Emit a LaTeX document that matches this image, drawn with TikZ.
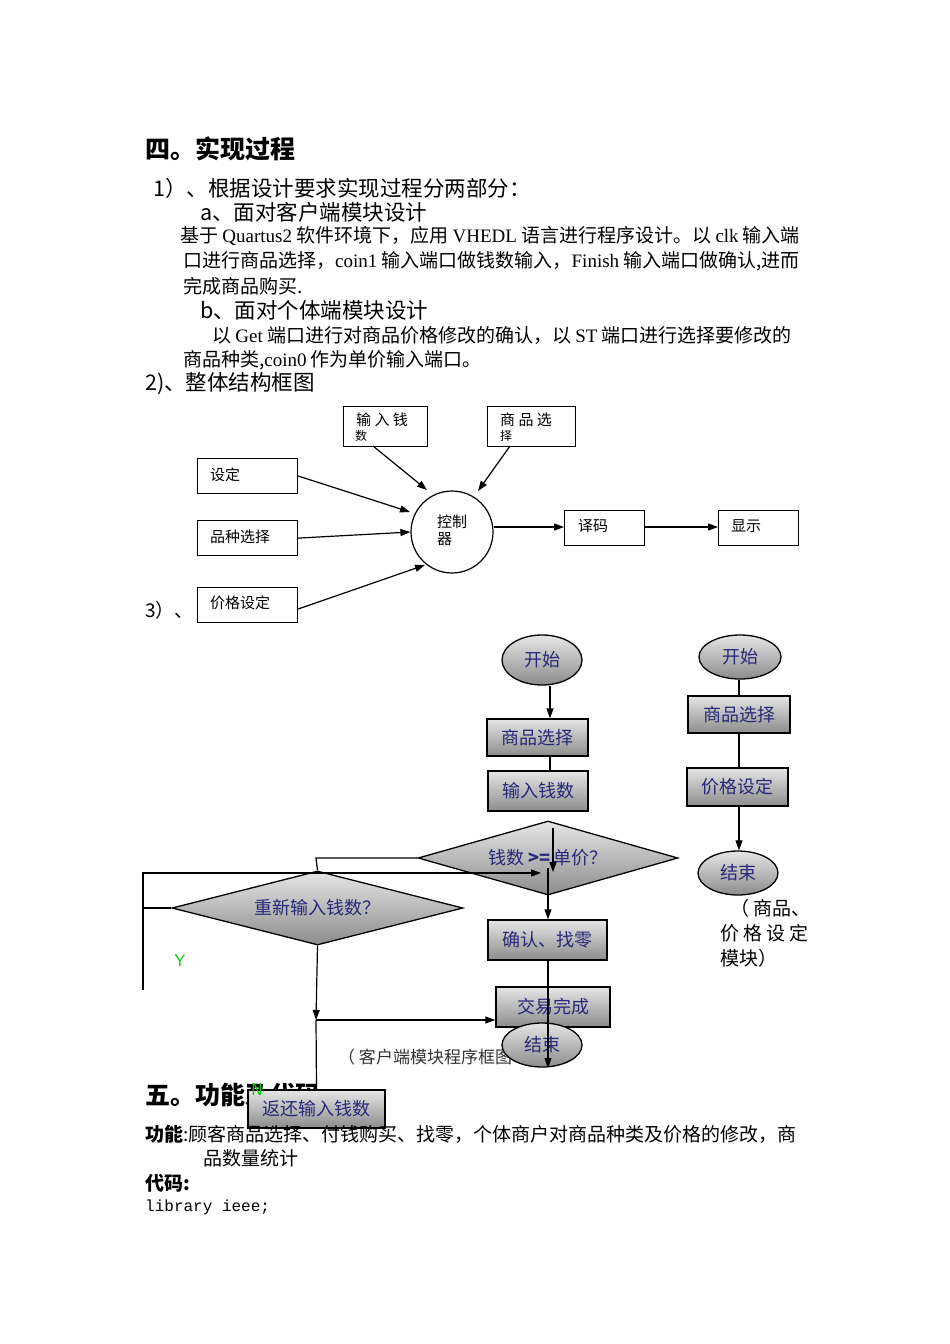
\documentclass[tikz,border=0pt]{standalone}
\usepackage{fontspec}
\setmainfont{Noto Sans CJK SC}
\newfontfamily\sr{Liberation Serif}
\newfontfamily\mn{Liberation Mono}
\usetikzlibrary{shapes.geometric,arrows.meta}
\definecolor{navy}{RGB}{40,40,120}
\tikzset{
 txt/.style={anchor=west,inner sep=0pt,font=\fontsize{19}{19}\selectfont},
 big/.style={anchor=west,inner sep=0pt,font=\fontsize{21.5}{21.5}\selectfont},
 head/.style={anchor=west,inner sep=0pt,font=\fontsize{25}{25}\selectfont\bfseries},
 bx/.style={draw,line width=1.2pt,anchor=north west,inner sep=0pt,font=\fontsize{15}{15}\selectfont},
 ar/.style={line width=1.2pt,-{Triangle[length=10pt,width=7pt]}},
 ln/.style={line width=1.2pt},
 sh/.style={draw,line width=1.3pt,top color=white!80!gray,bottom color=black!45,font=\fontsize{18}{18}\selectfont,text=navy,inner sep=0pt},
 el/.style={sh,ellipse,inner sep=0pt},
 dm/.style={sh,diamond,aspect=3.5,inner sep=0pt},
 grn/.style={text=green!80!black,font=\fontsize{17}{17}\sffamily,inner sep=0pt}
}
\begin{document}
\begin{tikzpicture}[x=1pt,y=-1pt]
\useasboundingbox (0,0) rectangle (950,1344);
\node[head] (h1) at (145,149) {四。实现过程};
\node[big] (t1) at (153,188) {1）、根据设计要求实现过程分两部分：};
\node[big] (t2) at (200,212) {a、面对客户端模块设计};
\node[txt] (t3) at (180,236) {基于 {\sr Quartus2} 软件环境下，应用 {\sr VHEDL} 语言进行程序设计。以 {\sr clk} 输入端};
\node[txt] (t4) at (183,261) {口进行商品选择，{\sr coin1} 输入端口做钱数输入，{\sr Finish} 输入端口做确认,进而};
\node[txt] (t5) at (183,286) {完成商品购买.};
\node[big] (t6) at (200,310) {b、面对个体端模块设计};
\node[txt] (t7) at (212,335) {以 {\sr Get} 端口进行对商品价格修改的确认，以 {\sr ST} 端口进行选择要修改的};
\node[txt] (t8) at (183,360) {商品种类,{\sr coin0} 作为单价输入端口。};
\node[big] (t9) at (145,384) {2)、整体结构框图};
% block diagram
\node[bx,minimum width=84pt,minimum height=40pt] (in) at (343,406) {};
\node[font=\fontsize{15}{15}\selectfont,anchor=north west,inner sep=0pt] (inT) at (356,413) {输 入 钱};
\node[font=\fontsize{12}{12}\selectfont,anchor=north west,inner sep=0pt] (inT2) at (355,430) {数};
\node[bx,minimum width=88pt,minimum height=40pt] (sp) at (487,406) {};
\node[font=\fontsize{15}{15}\selectfont,anchor=north west,inner sep=0pt] (spT) at (500,413) {商 品 选};
\node[font=\fontsize{12}{12}\selectfont,anchor=north west,inner sep=0pt] (spT2) at (500,430) {择};
\node[bx,minimum width=100pt,minimum height=35pt] (sd) at (197,458) {};
\node[txt,font=\fontsize{15}{15}\selectfont] at (210,475) {设定};
\node[bx,minimum width=100pt,minimum height=35pt] (pz) at (197,520) {};
\node[txt,font=\fontsize{15}{15}\selectfont] at (210,537) {品种选择};
\node[bx,minimum width=100pt,minimum height=35pt] (jg) at (197,587) {};
\node[txt,font=\fontsize{15}{15}\selectfont] at (210,603) {价格设定};
\node[draw,line width=1.2pt,circle,minimum size=82pt,inner sep=0pt] (ctl) at (452,532) {};
\node[font=\fontsize{15}{17}\selectfont,align=left,inner sep=0pt] at (452,530) {控制\\器};
\node[bx,minimum width=80pt,minimum height=35pt] (ym) at (564,510) {};
\node[txt,font=\fontsize{15}{15}\selectfont] at (578,526) {译码};
\node[bx,minimum width=80pt,minimum height=35pt] (xs) at (718,510) {};
\node[txt,font=\fontsize{15}{15}\selectfont] at (731,526) {显示};
\node[big,font=\fontsize{19}{19}\selectfont] (t10) at (145,610) {3）、};
\draw[ar] (sd.east|-0,476) -- (410,512);
\draw[ar] (pz.east) -- (ctl.west);
\draw[ar] (jg.east|-0,609) -- (425,565);
\draw[ar] (373,446) -- (427,490);
\draw[ar] (510,446) -- (478,491);
\draw[ar] (ctl.east|-0,527) -- (ym.west|-0,527);
\draw[ar] (ym.east|-0,527) -- (xs.west|-0,527);
% heading 5 (drawn before overlap)
\node[head] (h2) at (145,1095) {五。功能及代码};
\node[txt,font=\fontsize{17}{17}\selectfont,text=black!80] (cap) at (338,1057) {（ 客户端模块程序框图};
% left flowchart
\node[el,minimum width=80pt,minimum height=50pt] (s1) at (542,660) {开始};
\node[sh,minimum width=101pt,minimum height=37pt] (b1) at (537.5,737.5) {商品选择};
\node[sh,minimum width=100pt,minimum height=40pt] (b2) at (538,791) {输入钱数};
\node[dm,minimum width=260pt,minimum height=74pt] (d1) at (548,858) {钱数 {\bfseries >=} 单价？};
\node[sh,minimum width=119pt,minimum height=40pt] (b3) at (547.5,940) {确认、找零};
\node[sh,minimum width=114pt,minimum height=40pt] (b4) at (553,1007) {交易完成};
\node[dm,minimum width=291pt,minimum height=74pt] (d2) at (317.5,908) {重新输入钱数？};
\node[sh,minimum width=137pt,minimum height=38pt] (b5) at (316.5,1109) {返还输入钱数};
\node[grn] (Y) at (180,961) {Y};
\node[grn] (N) at (257,1090) {N};
\draw[ar] (s1.south-|550,0) -- (b1.north-|550,0);
\draw[ln] (b1.south-|550,0) -- (b2.north-|550,0);
\draw[ar] (553,828) -- (553,872);
\draw[ar] (548,868) -- (b3.north-|548,0);
\draw[ln] (d1.west) -- (316,858) -- (d2.north);
\draw[ar] (143,990) -- (143,873) -- (541,873);
\draw[ln] (143,908) -- (d2.west);
\draw[ar] (d2.south) -- (316,1020);
\draw[ln] (316,1020) -- (b5.north);
\draw[ar] (316,1020) -- (b4.west|-0,1020);
\node[el,minimum width=80pt,minimum height=44pt] (e1) at (542,1045) {结束};
\draw[ar] (548,960) -- (548,1068);
% right flowchart
\node[el,minimum width=82pt,minimum height=44pt] (s2) at (740,657) {开始};
\node[sh,minimum width=102pt,minimum height=37pt] (r1) at (739,714.5) {商品选择};
\node[sh,minimum width=101pt,minimum height=38pt] (r2) at (737.5,787) {价格设定};
\node[el,minimum width=80pt,minimum height=44pt] (e2) at (738,873) {结束};
\draw[ln] (s2.south-|739,0) -- (r1.north-|739,0);
\draw[ln] (r1.south-|739,0) -- (r2.north-|739,0);
\draw[ar] (r2.south-|739,0) -- (e2.north-|739,0);
\node[txt] (c1) at (730,908) {（\hspace{4pt}商品、};
\node[txt] (c2) at (720,933) {价 格 设 定};
\node[txt] (c3) at (720,958) {模块）};
% bottom text
\node[txt] (f1) at (145,1134) {{\bfseries 功能}:顾客商品选择、付钱购买、找零，个体商户对商品种类及价格的修改，商};
\node[txt] (f2) at (203,1158) {品数量统计};
\node[txt,font=\fontsize{19}{19}\selectfont\bfseries] (f3) at (145,1183) {代码:};
\node[txt,font=\fontsize{16}{16}\mn] (f4) at (145,1207) {library ieee;};
\end{tikzpicture}
\end{document}
